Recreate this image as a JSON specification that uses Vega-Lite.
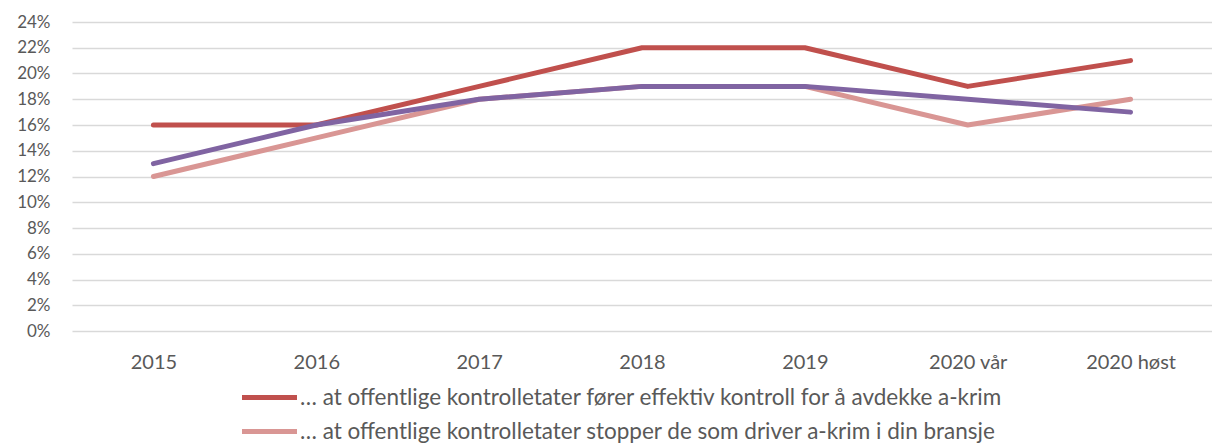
{
  "$schema": "https://vega.github.io/schema/vega-lite/v6.json",
  "width": 1140,
  "height": 309,
  "autosize": {"type": "none"},
  "padding": {"left": 72, "top": 22, "right": 0, "bottom": 115},
  "background": "white",
  "config": {
    "view": {"stroke": null},
    "font": "Lato",
    "axis": {"labelFont": "Lato", "labelColor": "#595959", "labelFontSize": 17}
  },
  "datasets": {
    "main": [
      {"year": "2015", "serie": "… at offentlige kontrolletater fører effektiv kontroll for å avdekke a-krim", "v": 0.16},
      {"year": "2016", "serie": "… at offentlige kontrolletater fører effektiv kontroll for å avdekke a-krim", "v": 0.16},
      {"year": "2017", "serie": "… at offentlige kontrolletater fører effektiv kontroll for å avdekke a-krim", "v": 0.19},
      {"year": "2018", "serie": "… at offentlige kontrolletater fører effektiv kontroll for å avdekke a-krim", "v": 0.22},
      {"year": "2019", "serie": "… at offentlige kontrolletater fører effektiv kontroll for å avdekke a-krim", "v": 0.22},
      {"year": "2020 vår", "serie": "… at offentlige kontrolletater fører effektiv kontroll for å avdekke a-krim", "v": 0.19},
      {"year": "2020 høst", "serie": "… at offentlige kontrolletater fører effektiv kontroll for å avdekke a-krim", "v": 0.21},
      {"year": "2015", "serie": "… at offentlige kontrolletater stopper de som driver a-krim i din bransje", "v": 0.12},
      {"year": "2016", "serie": "… at offentlige kontrolletater stopper de som driver a-krim i din bransje", "v": 0.15},
      {"year": "2017", "serie": "… at offentlige kontrolletater stopper de som driver a-krim i din bransje", "v": 0.18},
      {"year": "2018", "serie": "… at offentlige kontrolletater stopper de som driver a-krim i din bransje", "v": 0.19},
      {"year": "2019", "serie": "… at offentlige kontrolletater stopper de som driver a-krim i din bransje", "v": 0.19},
      {"year": "2020 vår", "serie": "… at offentlige kontrolletater stopper de som driver a-krim i din bransje", "v": 0.16},
      {"year": "2020 høst", "serie": "… at offentlige kontrolletater stopper de som driver a-krim i din bransje", "v": 0.18}
    ],
    "third": [
      {"year": "2015", "v": 0.13},
      {"year": "2016", "v": 0.16},
      {"year": "2017", "v": 0.18},
      {"year": "2018", "v": 0.19},
      {"year": "2019", "v": 0.19},
      {"year": "2020 vår", "v": 0.18},
      {"year": "2020 høst", "v": 0.17}
    ]
  },
  "encoding": {
    "x": {
      "field": "year", "type": "ordinal", "sort": null, "title": null,
      "scale": {"domain": ["2015", "2016", "2017", "2018", "2019", "2020 vår", "2020 høst"], "paddingInner": 0, "paddingOuter": 0.5},
      "axis": {"labelAngle": 0, "domain": false, "ticks": false, "labelPadding": 21, "grid": false, "labelFontSize": 20}
    },
    "y": {
      "field": "v", "type": "quantitative", "title": null,
      "scale": {"domain": [0, 0.24], "nice": false},
      "axis": {"format": ".0%", "values": [0, 0.02, 0.04, 0.06, 0.08, 0.1, 0.12, 0.14, 0.16, 0.18, 0.2, 0.22, 0.24], "domain": false, "ticks": false, "labelPadding": 22, "gridColor": "#d9d9d9", "gridWidth": 1.5, "labelBaseline": "middle"}
    }
  },
  "layer": [
    {
      "data": {"name": "main"},
      "mark": {"type": "line", "strokeWidth": 5, "strokeCap": "round", "strokeJoin": "round"},
      "encoding": {
        "color": {
          "field": "serie", "type": "nominal", "sort": null,
          "scale": {"range": ["#C0504D", "#D99694"]},
          "legend": {
            "title": null, "orient": "none", "legendX": 181, "legendY": 359, "direction": "vertical",
            "symbolType": "M-2,0H2", "symbolSize": 756, "symbolStrokeWidth": 5, "symbolFillColor": "transparent",
            "labelFontSize": 22.5, "labelColor": "#595959", "labelLimit": 1000, "labelFont": "Lato",
            "rowPadding": 6, "labelOffset": 14
          }
        }
      }
    },
    {
      "data": {"name": "third"},
      "mark": {"type": "line", "strokeWidth": 5, "strokeCap": "round", "strokeJoin": "round", "color": "#8064A2"}
    }
  ]
}
